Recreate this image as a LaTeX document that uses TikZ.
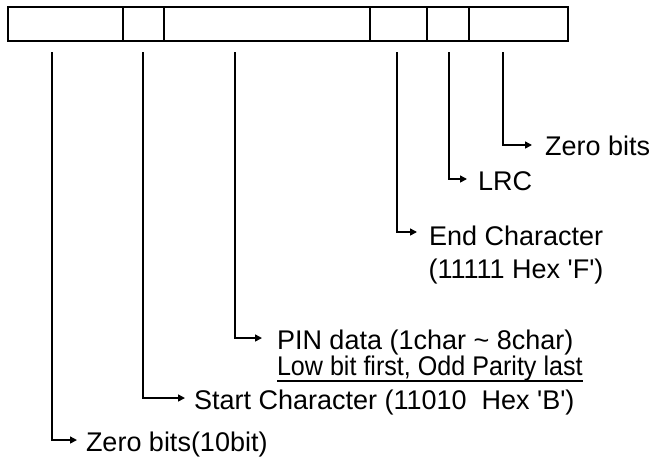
\documentclass[tikz,border=0pt]{standalone}
\usepackage{fontspec}
\setmainfont{Liberation Sans}
\newfontfamily\narrowsans[FakeStretch=0.93]{Liberation Sans}
\usetikzlibrary{arrows.meta}
\begin{document}
\begin{tikzpicture}[x=1pt,y=-1pt,
  cell/.style={draw=black, line width=1.5pt, minimum height=34pt, inner sep=0pt, outer sep=0pt},
  conn/.style={draw=black, line width=1.5pt, -{Triangle[length=7pt,width=7pt]}},
  lbl/.style={inner sep=0pt, outer sep=0pt, anchor=base west, font=\fontsize{27}{33}\selectfont}]
\useasboundingbox (0,0) rectangle (655,459);
% frame cells
\node[cell, minimum width=115pt] (c1) at (65.5,24) {};
\node[cell, minimum width=41pt]  (c2) at (143.5,24) {};
\node[cell, minimum width=206pt] (c3) at (267,24) {};
\node[cell, minimum width=57pt]  (c4) at (398.5,24) {};
\node[cell, minimum width=42pt]  (c5) at (448,24) {};
\node[cell, minimum width=99pt]  (c6) at (518.5,24) {};
% start points of the leader lines
\coordinate (s1) at (52,52);
\coordinate (s2) at (143,52);
\coordinate (s3) at (235,52);
\coordinate (s4) at (397,52);
\coordinate (s5) at (449,52);
\coordinate (s6) at (503,52);
% arrow tips
\coordinate (t1) at (77,440);
\coordinate (t2) at (185,398);
\coordinate (t3) at (262,338);
\coordinate (t4) at (417,232);
\coordinate (t5) at (467,179);
\coordinate (t6) at (532,145);
% labels
\node[lbl] (zb10) at (86,451) {Zero bits(10bit)};
\node[lbl] (stc) at (194,409) {Start Character (11010\ \ Hex \textquotesingle B\textquotesingle)};
\node[lbl] (pinA) at (277,349) {PIN data (1char \textasciitilde\ 8char)};
\node[lbl, font=\fontsize{27}{33}\narrowsans] (pinB) at (277,375) {Low bit first, Odd Parity last};
\node[lbl] (endA) at (429,245) {End Character};
\node[lbl, anchor=base] (endB) at ([yshift=-33pt]endA.base) {(11111 Hex \textquotesingle F\textquotesingle)};
\node[lbl] (lrc) at (478,190) {LRC};
\node[lbl] (zb) at (545,155) {Zero bits};
% underline
\draw[line width=1.3pt] ([yshift=-6pt]pinB.base west) -- ([yshift=-6pt]pinB.base east);
% connectors
\draw[conn] (s1) |- (t1);
\draw[conn] (s2) |- (t2);
\draw[conn] (s3) |- (t3);
\draw[conn] (s4) |- (t4);
\draw[conn] (s5) |- (t5);
\draw[conn] (s6) |- (t6);
\end{tikzpicture}
\end{document}
